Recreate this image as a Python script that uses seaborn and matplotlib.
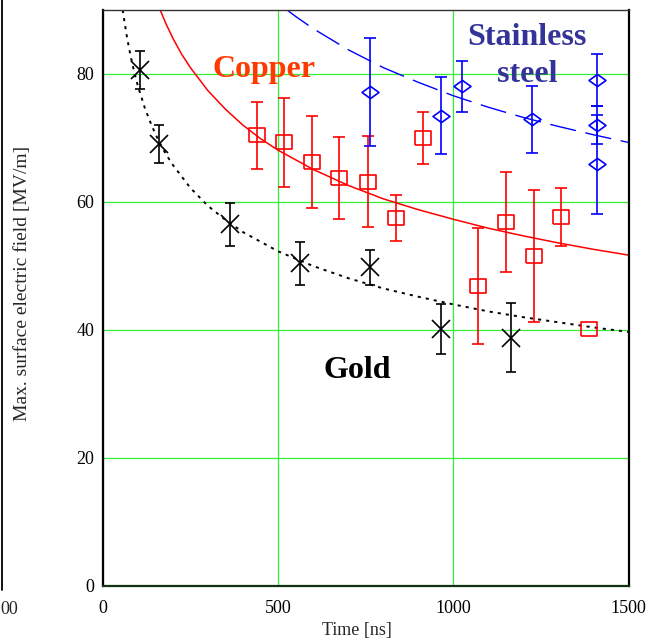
import numpy as np
import matplotlib
matplotlib.use("Agg")
import matplotlib.pyplot as plt
from matplotlib.lines import Line2D
import seaborn as sns

# ---- measured breakdown fields (time in ns, field in MV/m) ----
gold_t = [106, 161, 362, 563, 762, 965, 1164]
gold_v = [80.6, 69.1, 56.5, 50.4, 49.8, 40.2, 38.8]
gold_err = [3.0, 3.0, 3.3, 3.4, 2.7, 3.9, 5.4]

copper_t = [439, 517, 596, 674, 757, 835, 912, 1069, 1151, 1230, 1308, 1387]
copper_v = [70.4, 69.3, 66.2, 63.8, 63.2, 57.5, 70.0, 46.9, 56.9, 51.5, 57.7, 40.2]
copper_err = [5.3, 7.0, 7.2, 6.4, 7.1, 3.6, 4.0, 9.1, 7.8, 10.3, 4.5, 0.0]

steel_t = [762, 965, 1025, 1225, 1409, 1409, 1409]
steel_v = [77.2, 73.5, 78.1, 72.9, 79.1, 72.0, 65.9]
steel_err = [8.4, 6.0, 4.0, 5.2, 4.1, 3.0, 7.7]

# ---- fitted trend lines (E ~ t^-1/4), tabulated ----
gold_fit_t = [57, 60, 70, 80, 90, 100, 120, 140, 160, 180, 200, 250, 300, 350, 400,
              500, 600, 700, 800, 900, 1000, 1100, 1200, 1300, 1400, 1500]
gold_fit_v = [90.0, 88.9, 85.5, 82.7, 80.3, 78.2, 74.7, 71.9, 69.5, 67.5, 65.8, 62.2,
              59.4, 57.2, 55.3, 52.3, 50.0, 48.1, 46.5, 45.2, 44.0, 42.9, 42.0, 41.2,
              40.4, 39.7]

copper_fit_t = [164, 180, 200, 225, 250, 300, 350, 400, 450, 500, 600, 700, 800, 900,
                1000, 1100, 1200, 1300, 1400, 1500]
copper_fit_v = [90.0, 87.9, 85.6, 83.1, 81.0, 77.4, 74.5, 72.0, 69.9, 68.1, 65.1, 62.6,
                60.5, 58.8, 57.3, 55.9, 54.7, 53.6, 52.6, 51.7]

steel_fit_t = [526, 550, 600, 700, 800, 900, 1000, 1100, 1200, 1300, 1400, 1500]
steel_fit_v = [90.0, 89.0, 87.1, 83.8, 81.0, 78.7, 76.6, 74.8, 73.2, 71.8, 70.5, 69.3]

x_ticks = [0, 500, 1000, 1500]
y_ticks = [0, 20, 40, 60, 80]

sns.set_theme(style="white")
plt.rcParams["font.family"] = ["Liberation Serif", "DejaVu Serif"]

W, H = 648, 638
fig = plt.figure(figsize=(W / 100, H / 100), dpi=100)
ax = fig.add_axes([102.7 / W, 1 - 586 / H, 526 / W, 576 / H])

GRID = "#33EE33"
RED = "#FF0000"
BLUE = "#0000FF"

# trend lines
sns.lineplot(x=gold_fit_t, y=gold_fit_v, ax=ax, color="black", lw=1.4,
             linestyle=(0, (1.6, 2.6)), sort=False, estimator=None, zorder=2)
sns.lineplot(x=copper_fit_t, y=copper_fit_v, ax=ax, color=RED, lw=1.1,
             sort=False, estimator=None, zorder=2)
sns.lineplot(x=steel_fit_t, y=steel_fit_v, ax=ax, color=BLUE, lw=1.0,
             linestyle=(0, (19, 7)), sort=False, estimator=None, zorder=2)

square = [(-1, -0.78), (1, -0.78), (1, 0.78), (-1, 0.78), (-1, -0.78)]
diamond = [(0, 0.72), (1, 0), (0, -0.72), (-1, 0), (0, 0.72)]


def draw_series(t, v, err, color, marker, ms, capsize):
    t = np.asarray(t, float)
    v = np.asarray(v, float)
    err = np.asarray(err, float)
    has = err > 0
    ax.errorbar(t[has], v[has], yerr=err[has], fmt="none", ecolor=color,
                elinewidth=1.2, capsize=capsize, capthick=1.2, zorder=3)
    ax.plot(t, v, linestyle="none", marker=marker, ms=ms, mfc="none",
            mec=color, mew=1.2, zorder=4)


draw_series(gold_t, gold_v, gold_err, "black", "x", 13, 3.3)
draw_series(copper_t, copper_v, copper_err, RED, square, 12, 4.2)
draw_series(steel_t, steel_v, steel_err, BLUE, diamond, 12.2, 4.3)

# material labels
lab = dict(fontsize=23, fontweight="bold", family=["Liberation Serif"])
ax.text(314, 79.5, "Copper", ha="left", va="baseline", color="#FF3A00", **lab)
ax.text(1211, 84.5, "Stainless", ha="center", va="baseline", color="#333399", **lab)
ax.text(1211, 78.75, "steel", ha="center", va="baseline", color="#333399", **lab)
ax.text(726, 32.5, "Gold", ha="center", va="baseline", color="black", **lab)

ax.set_xlim(0, 1500)
ax.set_ylim(0, 90)
ax.set_xticks(x_ticks)
ax.set_yticks(y_ticks)
ax.set_xticklabels([str(v) for v in x_ticks])
ax.set_yticklabels([str(v) for v in y_ticks])
ax.tick_params(axis="both", length=0, labelsize=13, colors="black")
ax.tick_params(axis="x", pad=10)
ax.tick_params(axis="y", pad=6)
ax.grid(True, color=GRID, lw=0.9)
ax.set_axisbelow(True)
ax.set_xlabel("")
ax.set_ylabel("")
for side, s in ax.spines.items():
    s.set_visible(True)
    s.set_color("black")
    s.set_linewidth(1.6)
ax.spines["top"].set_linewidth(1.0)
ax.spines["top"].set_color("#333333")
ax.spines["bottom"].set_color("#123012")

fig.text(357 / W, 1 - 630 / H, "Time [ns]", ha="center", va="center", fontsize=13)
fig.text(23 / W, 1 - 283 / H, "Max. surface electric field [MV/m]", rotation=90,
         ha="center", va="center", fontsize=14)

# neighbouring panel edge
fig.add_artist(Line2D([1.5 / W, 1.5 / W], [1.0, 1 - 590 / H], color="black", lw=1.3,
                      transform=fig.transFigure))
fig.text(0.5 / W, 1 - 614 / H, "00", ha="left", va="baseline", fontsize=13)

fig.savefig("out.png", dpi=100, facecolor="white")
